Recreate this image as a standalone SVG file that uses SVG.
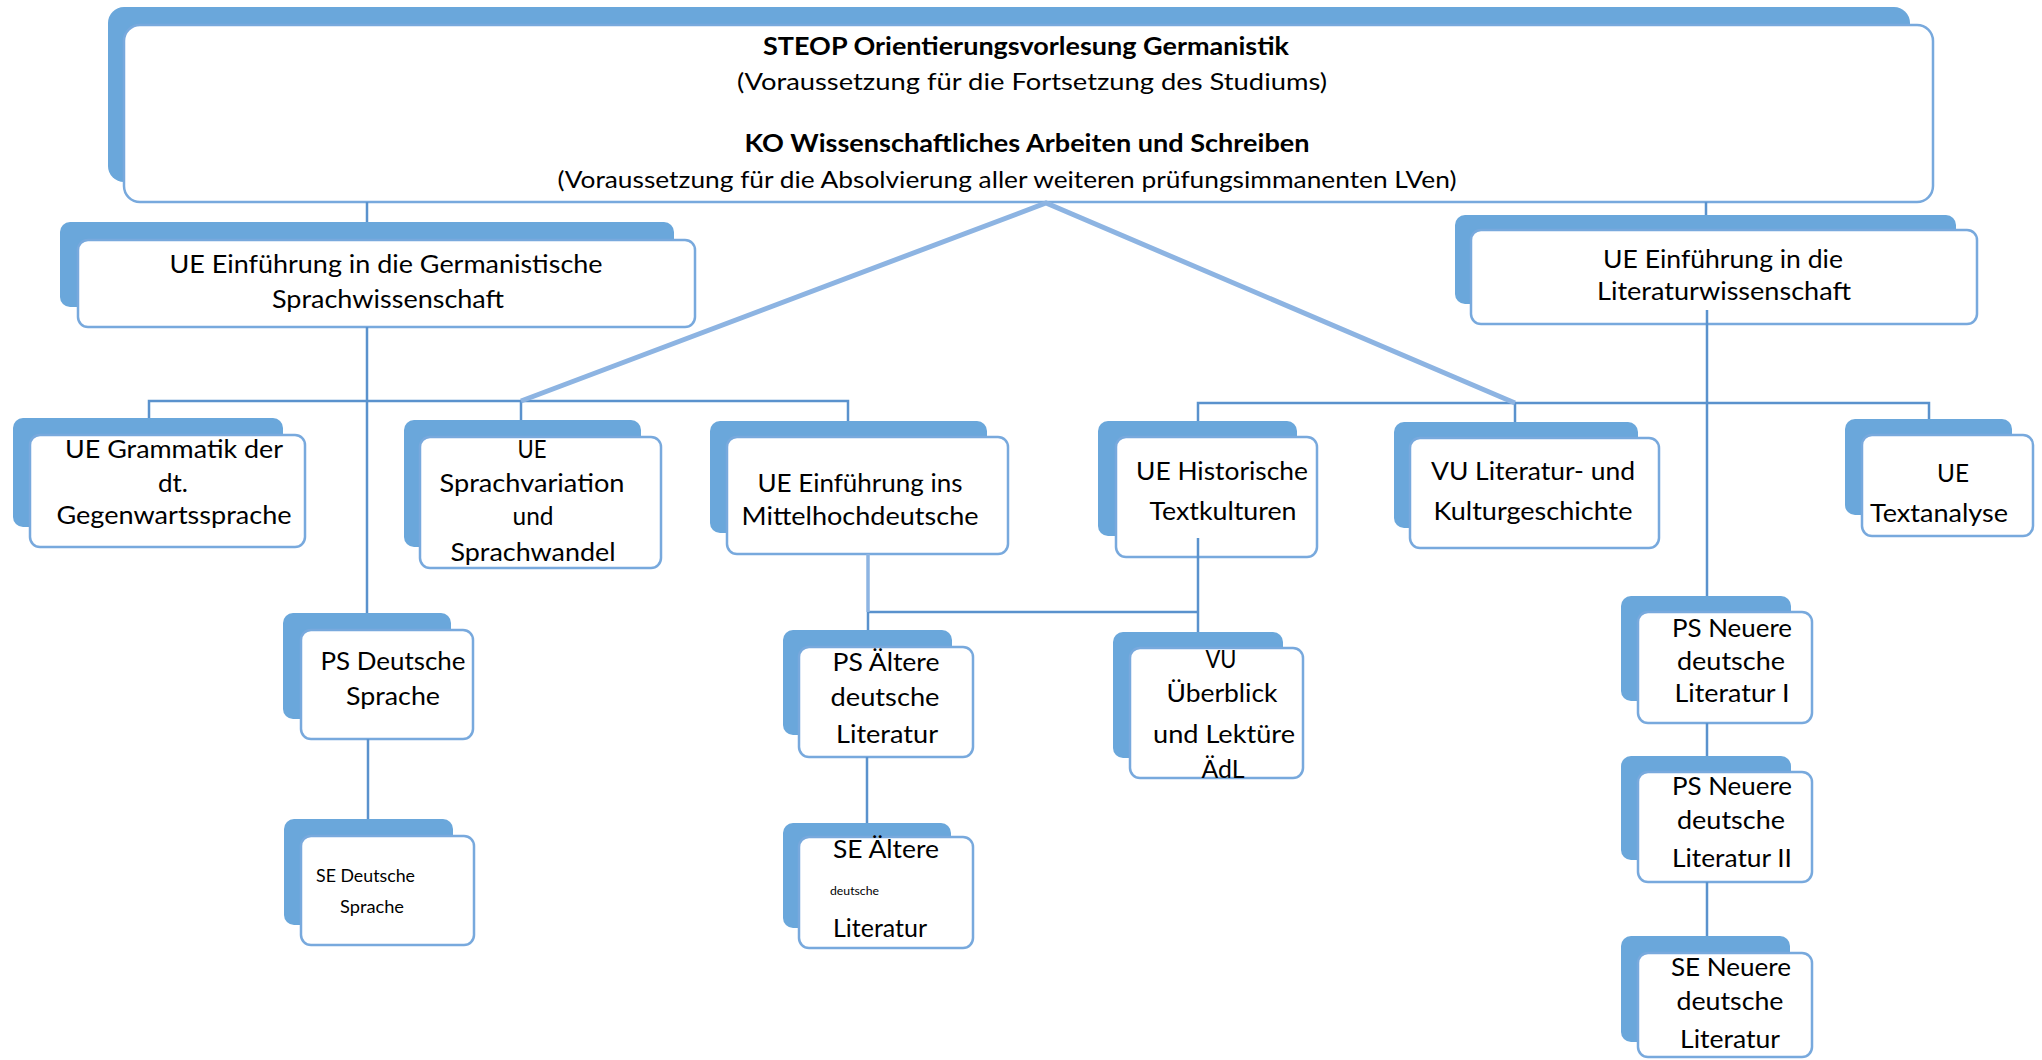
<svg xmlns="http://www.w3.org/2000/svg" width="2042" height="1060" viewBox="0 0 2042 1060">
<style>
.back{fill:#6AA7DB}
.front{fill:#FFFFFF;stroke:#78A9DD;stroke-width:2.5}
text{font-family:Lato,"Liberation Sans",sans-serif;fill:#000;font-size:25.5px;text-anchor:middle}
.b{font-weight:bold;font-size:24px}
.h{font-size:24px}
.s{font-size:17px;text-anchor:start}
.xs{font-size:11.5px;text-anchor:start}
.st{text-anchor:start}
.dk{stroke:#5A92CD;stroke-width:2.5;fill:none}
.lt{stroke:#8DB4E2;fill:none}
</style>
<rect width="2042" height="1060" fill="#FFFFFF"/>
<g id="nodes">
<g id="steop">
<rect class="back" x="108" y="7" width="1802" height="175" rx="16"/>
<rect class="front" x="124" y="25" width="1809" height="177" rx="16"/>
<text class="b" x="1026" y="55" textLength="526" lengthAdjust="spacingAndGlyphs">STEOP Orientierungsvorlesung Germanistik</text>
<text class="h" x="1032" y="90" textLength="590" lengthAdjust="spacingAndGlyphs">(Voraussetzung für die Fortsetzung des Studiums)</text>
<text class="b" x="1027" y="152" textLength="565" lengthAdjust="spacingAndGlyphs">KO Wissenschaftliches Arbeiten und Schreiben</text>
<text class="h" x="1007" y="188" textLength="899" lengthAdjust="spacingAndGlyphs">(Voraussetzung für die Absolvierung aller weiteren prüfungsimmanenten LVen)</text>
</g>
<g id="sprachwiss">
<rect class="back" x="60" y="222" width="614" height="85" rx="10"/>
<rect class="front" x="78" y="240" width="617" height="87" rx="10"/>
<text x="386" y="273" textLength="433" lengthAdjust="spacingAndGlyphs">UE Einführung in die Germanistische</text>
<text x="388" y="308" textLength="232" lengthAdjust="spacingAndGlyphs">Sprachwissenschaft</text>
</g>
<g id="litwiss">
<rect class="back" x="1455" y="215" width="501" height="89" rx="10"/>
<rect class="front" x="1471" y="230" width="506" height="94" rx="10"/>
<text x="1723" y="268" textLength="240" lengthAdjust="spacingAndGlyphs">UE Einführung in die</text>
<text x="1724" y="300" textLength="254" lengthAdjust="spacingAndGlyphs">Literaturwissenschaft</text>
</g>
<g id="grammatik">
<rect class="back" x="13" y="418" width="270" height="109" rx="10"/>
<rect class="front" x="30" y="435" width="275" height="112" rx="10"/>
<text x="174" y="458" textLength="218" lengthAdjust="spacingAndGlyphs">UE Grammatik der</text>
<text x="173" y="492" textLength="30" lengthAdjust="spacingAndGlyphs">dt.</text>
<text x="174" y="524" textLength="235" lengthAdjust="spacingAndGlyphs">Gegenwartssprache</text>
</g>
<g id="sprachvariation">
<rect class="back" x="404" y="420" width="237" height="127" rx="10"/>
<rect class="front" x="420" y="437" width="241" height="131" rx="10"/>
<text x="532" y="458" textLength="29" lengthAdjust="spacingAndGlyphs">UE</text>
<text x="532" y="492" textLength="185" lengthAdjust="spacingAndGlyphs">Sprachvariation</text>
<text x="533" y="525" textLength="41" lengthAdjust="spacingAndGlyphs">und</text>
<text x="533" y="561" textLength="165" lengthAdjust="spacingAndGlyphs">Sprachwandel</text>
</g>
<g id="mittelhochdeutsch">
<rect class="back" x="710" y="421" width="277" height="112" rx="10"/>
<rect class="front" x="727" y="437" width="281" height="117" rx="10"/>
<text x="860" y="492" textLength="205" lengthAdjust="spacingAndGlyphs">UE Einführung ins</text>
<text x="860" y="525" textLength="237" lengthAdjust="spacingAndGlyphs">Mittelhochdeutsche</text>
</g>
<g id="textkulturen">
<rect class="back" x="1098" y="421" width="199" height="115" rx="10"/>
<rect class="front" x="1116" y="437" width="201" height="120" rx="10"/>
<text x="1222" y="480" textLength="172" lengthAdjust="spacingAndGlyphs">UE Historische</text>
<text x="1223" y="520" textLength="147" lengthAdjust="spacingAndGlyphs">Textkulturen</text>
</g>
<g id="kulturgeschichte">
<rect class="back" x="1394" y="422" width="244" height="106" rx="10"/>
<rect class="front" x="1410" y="438" width="249" height="110" rx="10"/>
<text x="1533" y="480" textLength="204" lengthAdjust="spacingAndGlyphs">VU Literatur- und</text>
<text x="1533" y="520" textLength="199" lengthAdjust="spacingAndGlyphs">Kulturgeschichte</text>
</g>
<g id="textanalyse">
<rect class="back" x="1845" y="419" width="167" height="96" rx="10"/>
<rect class="front" x="1862" y="435" width="171" height="101" rx="10"/>
<text x="1953" y="482" textLength="32" lengthAdjust="spacingAndGlyphs">UE</text>
<text class="st" x="1870" y="522" textLength="138" lengthAdjust="spacingAndGlyphs">Textanalyse</text>
</g>
<g id="ps-deutsche-sprache">
<rect class="back" x="283" y="613" width="168" height="106" rx="10"/>
<rect class="front" x="301" y="630" width="172" height="109" rx="10"/>
<text x="393" y="670" textLength="145" lengthAdjust="spacingAndGlyphs">PS Deutsche</text>
<text x="393" y="705" textLength="94" lengthAdjust="spacingAndGlyphs">Sprache</text>
</g>
<g id="se-deutsche-sprache">
<rect class="back" x="284" y="819" width="169" height="106" rx="10"/>
<rect class="front" x="301" y="836" width="173" height="109" rx="10"/>
<text class="s" x="316" y="882" textLength="99" lengthAdjust="spacingAndGlyphs">SE Deutsche</text>
<text class="s" x="340" y="913" textLength="64" lengthAdjust="spacingAndGlyphs">Sprache</text>
</g>
<g id="ps-aeltere">
<rect class="back" x="783" y="630" width="169" height="105" rx="10"/>
<rect class="front" x="799" y="647" width="174" height="110" rx="10"/>
<text x="886" y="671" textLength="107" lengthAdjust="spacingAndGlyphs">PS Ältere</text>
<text x="885" y="706" textLength="109" lengthAdjust="spacingAndGlyphs">deutsche</text>
<text x="887" y="743" textLength="102" lengthAdjust="spacingAndGlyphs">Literatur</text>
</g>
<g id="se-aeltere">
<rect class="back" x="783" y="823" width="168" height="105" rx="10"/>
<rect class="front" x="799" y="837" width="174" height="111" rx="10"/>
<text x="886" y="858" textLength="106" lengthAdjust="spacingAndGlyphs">SE Ältere</text>
<text class="xs" x="830" y="895" textLength="49" lengthAdjust="spacingAndGlyphs">deutsche</text>
<text class="st" x="833" y="937" textLength="94" lengthAdjust="spacingAndGlyphs">Literatur</text>
</g>
<g id="vu-ueberblick">
<rect class="back" x="1113" y="632" width="170" height="126" rx="10"/>
<rect class="front" x="1130" y="648" width="173" height="130" rx="10"/>
<text x="1221" y="668" textLength="31" lengthAdjust="spacingAndGlyphs">VU</text>
<text x="1222" y="702" textLength="111" lengthAdjust="spacingAndGlyphs">Überblick</text>
<text x="1224" y="743" textLength="142" lengthAdjust="spacingAndGlyphs">und Lektüre</text>
<text x="1223" y="778" textLength="43" lengthAdjust="spacingAndGlyphs">ÄdL</text>
</g>
<g id="ps-neuere-1">
<rect class="back" x="1621" y="596" width="170" height="105" rx="10"/>
<rect class="front" x="1638" y="612" width="174" height="111" rx="10"/>
<text x="1732" y="637" textLength="120" lengthAdjust="spacingAndGlyphs">PS Neuere</text>
<text x="1731" y="670" textLength="108" lengthAdjust="spacingAndGlyphs">deutsche</text>
<text x="1732" y="702" textLength="115" lengthAdjust="spacingAndGlyphs">Literatur I</text>
</g>
<g id="ps-neuere-2">
<rect class="back" x="1621" y="756" width="170" height="104" rx="10"/>
<rect class="front" x="1638" y="772" width="174" height="110" rx="10"/>
<text x="1732" y="795" textLength="120" lengthAdjust="spacingAndGlyphs">PS Neuere</text>
<text x="1731" y="829" textLength="108" lengthAdjust="spacingAndGlyphs">deutsche</text>
<text x="1732" y="867" textLength="120" lengthAdjust="spacingAndGlyphs">Literatur II</text>
</g>
<g id="se-neuere">
<rect class="back" x="1621" y="936" width="169" height="106" rx="10"/>
<rect class="front" x="1638" y="953" width="174" height="104" rx="10"/>
<text x="1731" y="976" textLength="120" lengthAdjust="spacingAndGlyphs">SE Neuere</text>
<text x="1730" y="1010" textLength="107" lengthAdjust="spacingAndGlyphs">deutsche</text>
<text x="1730" y="1048" textLength="100" lengthAdjust="spacingAndGlyphs">Literatur</text>
</g>
</g>
<g id="connectors">
<path class="dk" d="M367 202V222M1706 202V215"/>
<path class="dk" d="M367 327V613M149 418V401H848V421M521 401V420"/>
<path class="dk" d="M368 739V819"/>
<path class="dk" d="M1707 310V596M1198 421V403H1929V419M1515 403V422"/>
<path class="dk" d="M1198 538V632M868 612H1198M868 612V630M867 757V823"/>
<path class="dk" d="M1707 723V756M1707 882V936"/>
<path class="lt" stroke-width="3.5" d="M868 554V612"/>
<path class="lt" stroke-width="5" stroke-linejoin="miter" d="M521 401L1046 203L1515 403"/>
</g>
</svg>
